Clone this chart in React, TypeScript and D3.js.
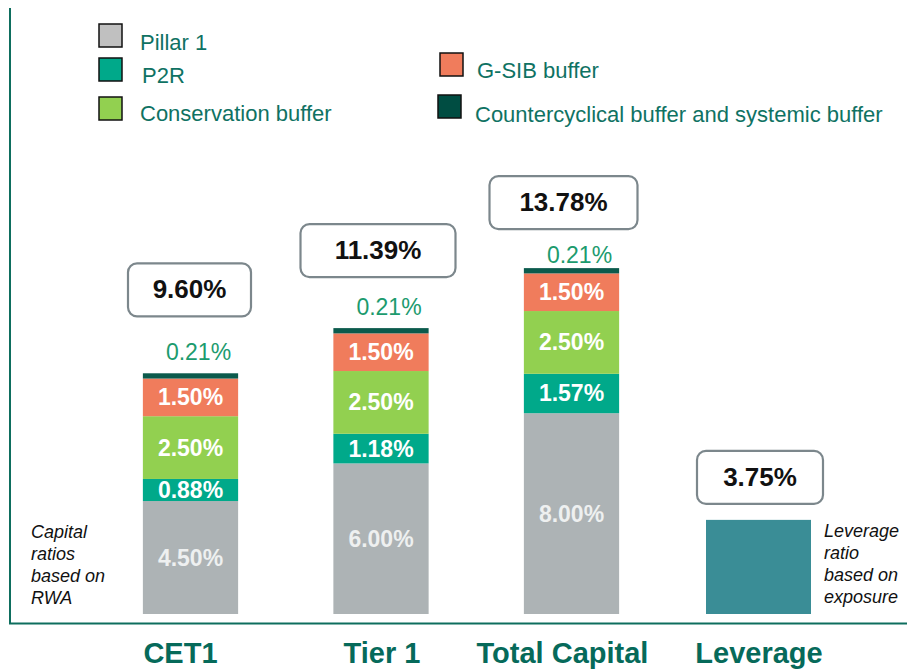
import React from "react";
import * as d3 from "d3";

const categories = ["CET1", "Tier 1", "Total Capital", "Leverage"];
const seriesNames = ["Pillar 1", "P2R", "Conservation buffer", "G-SIB buffer", "Countercyclical buffer and systemic buffer"];
const pillar1 = [4.5, 6.0, 8.0, 0];
const p2r = [0.88, 1.18, 1.57, 0];
const conservation = [2.5, 2.5, 2.5, 0];
const gsib = [1.5, 1.5, 1.5, 0];
const countercyclical = [0.21, 0.21, 0.21, 0];
const leverage = [0, 0, 0, 3.75];
const totals = ["9.60%", "11.39%", "13.78%", "3.75%"];

const colors = ["#adb3b5", "#00a98a", "#92d050", "#f07c5c", "#0b5a4c"];
const legendColors = ["#c0c0c0", "#00a98a", "#92d050", "#f07c5c", "#004d42"];
const leverageColor = "#3a8d96";
const lineColor = "#0e6e5e";
const textGreen = "#0f7263";

// box sizes and spacing above the bars (layout only)
const boxW = [123, 155, 148, 126];
const boxDx = [-1, -3, -8, -2];
const boxGap = [110, 104, 92, 69];
const topLabelGap = [13, 13, 5, 0];
const catDx = [-10, 1, -9, -3];

const W = 907;
const H = 669;

export default function App() {
  const x = d3.scaleBand<string>().domain(categories).range([95.25, 857.25]).paddingInner(0.5).paddingOuter(0.25);
  const y = d3.scaleLinear().domain([0, 14]).range([614, 614 - 14 * 25.1]);

  const rows = categories.map((c, i) => ({
    cat: c,
    vals: [pillar1[i], p2r[i], conservation[i], gsib[i], countercyclical[i]],
  }));
  const keys = [0, 1, 2, 3, 4];
  const stacked = d3
    .stack<any, number>()
    .keys(keys as any)
    .value((d: any, k: any) => d.vals[k])(rows);

  const bw = x.bandwidth();
  const cx = (c: string) => (x(c) as number) + bw / 2;

  const legend = [
    { i: 0, sx: 99, sy: 24, tx: 140, ty: 50 },
    { i: 1, sx: 99, sy: 58, tx: 142, ty: 83 },
    { i: 2, sx: 99, sy: 97, tx: 140, ty: 121 },
    { i: 3, sx: 440, sy: 53, tx: 477, ty: 78 },
    { i: 4, sx: 438, sy: 95, tx: 475, ty: 122 },
  ];

  const tops = categories.map((c, i) =>
    i === 3 ? y(leverage[i]) : y(pillar1[i] + p2r[i] + conservation[i] + gsib[i] + countercyclical[i])
  );

  return (
    <div style={{ position: "absolute", left: 0, top: 0 }}>
      <svg width={W} height={H} style={{ display: "block", fontFamily: "'Liberation Sans', Arial, sans-serif" }}>
        <rect width={W} height={H} fill="#fff" />
        {/* frame lines */}
        <line x1={10} x2={10} y1={8} y2={624} stroke={lineColor} strokeWidth={2} />
        <line x1={9} x2={907} y1={623.5} y2={623.5} stroke={lineColor} strokeWidth={2} />

        {/* legend */}
        {legend.map((l) => (
          <g key={l.i}>
            <rect x={l.sx} y={l.sy} width={23} height={23} fill={legendColors[l.i]} stroke="#111" strokeWidth={1.5} />
            <text x={l.tx} y={l.ty} fontSize={22} fill={textGreen}>
              {seriesNames[l.i]}
            </text>
          </g>
        ))}

        {/* stacked bars */}
        {stacked.map((layer, k) =>
          layer.map((d, i) => {
            const c = categories[i];
            const v = d[1] - d[0];
            if (v <= 0) return null;
            const y0 = y(d[0]);
            const y1 = y(d[1]);
            return (
              <g key={`${k}-${i}`}>
                <rect x={x(c)} y={y1} width={bw} height={y0 - y1} fill={colors[k]} />
                {k < 4 && (
                  <text
                    x={cx(c)}
                    y={(y0 + y1) / 2 + 8}
                    textAnchor="middle"
                    fontSize={23}
                    fontWeight="bold"
                    fill={k === 0 ? "#eef0f0" : "#ffffff"}
                  >
                    {v.toFixed(2)}%
                  </text>
                )}
                {k === 4 && (
                  <text
                    x={cx(c) + 8}
                    y={y1 - topLabelGap[i]}
                    textAnchor="middle"
                    fontSize={23}
                    fill="#1c9b6e"
                  >
                    {v.toFixed(2)}%
                  </text>
                )}
              </g>
            );
          })
        )}

        {/* leverage bar */}
        {categories.map((c, i) =>
          leverage[i] > 0 ? (
            <rect
              key={c}
              x={cx(c) - 56}
              y={y(leverage[i])}
              width={105}
              height={y(0) - y(leverage[i])}
              fill={leverageColor}
            />
          ) : null
        )}

        {/* total boxes */}
        {categories.map((c, i) => {
          const bx = cx(c) + boxDx[i] - boxW[i] / 2;
          const by = tops[i] - boxGap[i];
          return (
            <g key={`box-${c}`}>
              <rect x={bx} y={by} width={boxW[i]} height={53} rx={9} fill="#fff" stroke="#7c878c" strokeWidth={2.2} />
              <text x={bx + boxW[i] / 2} y={by + 35} textAnchor="middle" fontSize={26} fontWeight="bold" fill="#111">
                {totals[i]}
              </text>
            </g>
          );
        })}

        {/* category labels */}
        {categories.map((c, i) => (
          <text key={`cat-${c}`} x={cx(c) + catDx[i]} y={663} textAnchor="middle" fontSize={29} fontWeight="bold" fill="#066a5a">
            {c}
          </text>
        ))}

        {/* side notes */}
        <text fontSize={18} fontStyle="italic" fill="#111">
          {["Capital", "ratios", "based on", "RWA"].map((t, j) => (
            <tspan key={t} x={31} y={538 + j * 22}>
              {t}
            </tspan>
          ))}
        </text>
        <text fontSize={18} fontStyle="italic" fill="#111">
          {["Leverage", "ratio", "based on", "exposure"].map((t, j) => (
            <tspan key={t} x={824} y={537 + j * 22}>
              {t}
            </tspan>
          ))}
        </text>
      </svg>
    </div>
  );
}
